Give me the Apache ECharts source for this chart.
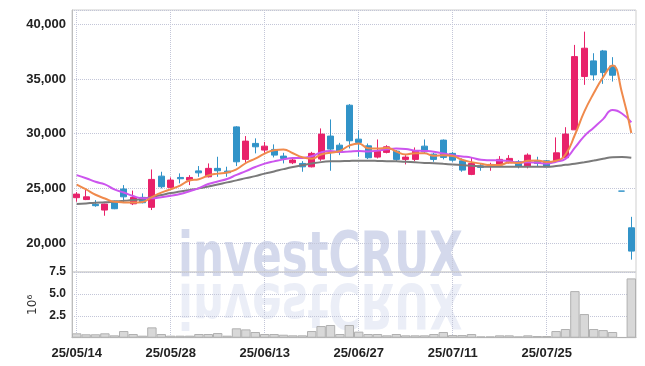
<!DOCTYPE html>
<html><head><meta charset="utf-8">
<script src="https://cdn.jsdelivr.net/npm/echarts@6/dist/echarts.min.js"></script>
<style>html,body{margin:0;padding:0;background:#fff}#c{width:645px;height:366px}</style>
</head><body><div id="c"></div>
<script>
const dates = ['25/05/14','25/05/15','25/05/16','25/05/19','25/05/20','25/05/21','25/05/22','25/05/23','25/05/26','25/05/27',
 '25/05/28','25/05/29','25/05/30','25/06/02','25/06/04','25/06/05','25/06/09','25/06/10','25/06/11','25/06/12',
 '25/06/13','25/06/16','25/06/17','25/06/18','25/06/19','25/06/20','25/06/23','25/06/24','25/06/25','25/06/26',
 '25/06/27','25/06/30','25/07/01','25/07/02','25/07/03','25/07/04','25/07/07','25/07/08','25/07/09','25/07/10',
 '25/07/11','25/07/14','25/07/15','25/07/16','25/07/17','25/07/18','25/07/21','25/07/22','25/07/23','25/07/24',
 '25/07/25','25/07/28','25/07/29','25/07/30','25/07/31','25/08/01','25/08/04','25/08/05','25/08/06','25/08/07'];
const opens  = [24150,23980,23540,23020,23840,24940,23590,24180,23270,26120,25090,26000,25760,26600,26060,26830,26580,30620,27650,29110,
 28500,28560,27950,27340,27280,26970,27680,29780,28950,32600,29500,28890,27860,28290,28400,27650,27650,28860,28130,29410,
 28200,27520,26280,27060,27100,27130,27340,27430,27040,27520,27520,27520,27800,30350,35220,36650,37560,36190,24750,21400];
const closes = [24480,24230,23420,23570,23140,24230,24180,23690,25820,25150,25760,25880,26000,26420,26830,26610,26430,27430,29320,28800,
 28860,28040,27740,27590,26970,28200,29960,28590,28430,29350,29200,27800,28400,28800,27650,27860,28400,28340,27650,27830,
 27580,26670,27280,26920,27190,27650,27740,27040,28040,27280,26970,28250,29960,37040,37810,35370,35580,35340,24750,19270];
const lows   = [23780,23930,23320,22500,23100,23685,23475,23630,23020,25000,25000,25460,25300,26060,26000,26060,26060,27040,27340,28200,
 28250,27830,27280,27220,26520,26920,27520,26610,28040,28650,27890,27680,27740,28200,27490,27190,27490,28200,27430,27650,
 27430,26520,26210,26610,26610,27040,27280,26830,26830,27040,26950,27430,27740,30350,34460,34850,34550,34760,24750,18490];
const highs  = [24660,24910,23930,23600,23880,25300,24800,24540,26730,26520,26000,26370,26210,27040,27280,27890,26980,30690,29780,29570,
 29250,29020,28250,27830,27490,28340,30480,31300,29160,32700,30320,29100,29470,28950,28500,28040,28740,29470,28250,29470,
 28340,27740,27830,27280,27340,27950,28040,27580,28200,27890,27600,29660,30590,38110,39320,37350,37650,36990,24750,22400];
const volumes = [0.50,0.39,0.39,0.50,0.27,0.76,0.42,0.23,1.18,0.42,0.23,0.23,0.23,0.42,0.42,0.53,0.23,1.07,0.95,0.65,
 0.42,0.42,0.34,0.27,0.27,0.76,1.33,1.45,0.42,1.45,0.69,0.42,0.42,0.27,0.42,0.27,0.27,0.27,0.42,0.65,
 0.30,0.30,0.42,0.15,0.15,0.27,0.27,0.15,0.27,0.19,0.19,0.76,0.99,5.32,2.70,0.99,0.87,0.65,0.05,6.77];
const ma5  = [25350,24900,24420,24080,23770,23720,23710,23760,24210,24610,24920,25260,25720,25840,26180,26350,26460,26740,27320,27720,
 28170,28490,28550,28210,27840,27710,28090,28260,28430,28910,29110,28670,28640,28710,28370,28100,28220,28210,27980,28020,
 27960,27610,27400,27260,27130,27140,27360,27310,27530,27550,27410,27520,28100,29900,32010,33690,35150,36230,33770,30060];
const ma10 = [26215,25930,25600,25365,24910,24620,24300,24100,24090,24190,24320,24480,24740,25030,25400,25630,25860,26230,26580,26950,
 27260,27470,27650,27770,27780,27940,28290,28410,28320,28370,28410,28380,28450,28570,28640,28600,28450,28420,28350,28190,
 28030,27920,27810,27620,27570,27550,27490,27360,27390,27340,27280,27440,27700,28720,29780,30550,31330,32160,31840,31030];
const ma60 = [23570,23630,23690,23730,23800,23860,23930,24040,24210,24390,24570,24710,24850,25000,25170,25350,25550,25730,25940,26120,
 26350,26550,26760,26950,27110,27270,27400,27470,27490,27510,27520,27520,27510,27490,27470,27430,27380,27330,27290,27240,
 27190,27130,27070,27010,26980,26970,26970,26970,26970,26970,26970,27040,27150,27250,27390,27540,27700,27840,27860,27800];
const priceMin = 17360, priceMax = 41300;
const volMax = 7.5, volStep = 2.5;
const watermark = 'investCRUX';

const chart = echarts.init(document.getElementById('c'), null, {renderer: 'canvas'});
const ff = '"Liberation Sans",Arial,sans-serif';
const wmFont = 'bold 62px "DejaVu Sans Condensed","DejaVu Sans",sans-serif';
const gridLine = {show: true, lineStyle: {type: 'dotted', color: '#c3c6d8', width: 1}};
const candleData = opens.map((o, i) => [o, closes[i], lows[i], highs[i]]);
const lineS = (name, data, color) => ({
  name, type: 'line', data, xAxisIndex: 0, yAxisIndex: 0, smooth: true, showSymbol: false,
  lineStyle: {color, width: 2}, z: 5
});
chart.setOption({
  animation: false,
  backgroundColor: '#fff',
  graphic: [
    {type: 'text', x: 178, y: 229, scaleX: 0.78, z: -10, silent: true,
     style: {text: watermark, font: wmFont, fill: 'rgba(196,203,228,0.72)'}},
    {type: 'text', x: 178, y: 331, scaleX: 0.78, scaleY: -1, z: -10, silent: true,
     style: {text: watermark, font: wmFont, fill: 'rgba(206,212,234,0.4)'}}
  ],
  grid: [
    {left: 72, right: 9, top: 10, height: 262, show: true, borderColor: '#cfcfcf', borderWidth: 1},
    {left: 72, right: 9, top: 272, height: 65.7, show: true, borderColor: '#cfcfcf', borderWidth: 1}
  ],
  xAxis: [
    {type: 'category', gridIndex: 0, data: dates, boundaryGap: true,
     axisLine: {show: false}, axisTick: {show: false}, axisLabel: {show: false},
     splitLine: Object.assign({interval: 9, alignWithLabel: true}, gridLine)},
    {type: 'category', gridIndex: 1, data: dates, boundaryGap: true,
     axisLine: {show: true, lineStyle: {color: '#bdbdbd'}}, axisTick: {show: false},
     axisLabel: {interval: 9, fontFamily: ff, fontWeight: 'bold', fontSize: 13, color: '#222', margin: 9},
     splitLine: Object.assign({interval: 9, alignWithLabel: true}, gridLine)}
  ],
  yAxis: [
    {type: 'value', gridIndex: 0, min: priceMin, max: priceMax, splitNumber: 5, scale: true,
     axisLine: {show: true, lineStyle: {color: '#bdbdbd'}}, axisTick: {show: false},
     axisLabel: {showMinLabel: false, showMaxLabel: false, fontFamily: ff, fontWeight: 'bold', fontSize: 13, color: '#222', margin: 6,
       formatter: v => v.toLocaleString('en-US')},
     splitLine: gridLine},
    {type: 'value', gridIndex: 1, min: 0, max: volMax, interval: volStep,
     name: '10\u2076', nameLocation: 'middle', nameGap: 31, nameRotate: 90,
     nameTextStyle: {fontFamily: 'DejaVu Sans', fontSize: 12, color: '#333'},
     axisLine: {show: true, lineStyle: {color: '#bdbdbd'}}, axisTick: {show: false},
     axisLabel: {fontFamily: ff, fontWeight: 'bold', fontSize: 12, color: '#222', margin: 6,
       formatter: v => v === 0 ? '' : v.toFixed(1)},
     splitLine: gridLine}
  ],
  series: [
    {type: 'candlestick', data: candleData, xAxisIndex: 0, yAxisIndex: 0, barWidth: '68%', z: 3,
     itemStyle: {color: '#e8226a', color0: '#3193c8', borderColor: '#e8226a', borderColor0: '#3193c8', borderWidth: 1}},
    lineS('MA60', ma60, '#7a7a7a'),
    lineS('MA10', ma10, '#cc55ee'),
    lineS('MA5', ma5, '#f08a4c'),
    {type: 'bar', data: volumes, xAxisIndex: 1, yAxisIndex: 1, barCategoryGap: '0%',
     itemStyle: {color: '#d8d8d8', borderColor: '#b0b0b0', borderWidth: 1}}
  ]
});
</script></body></html>
